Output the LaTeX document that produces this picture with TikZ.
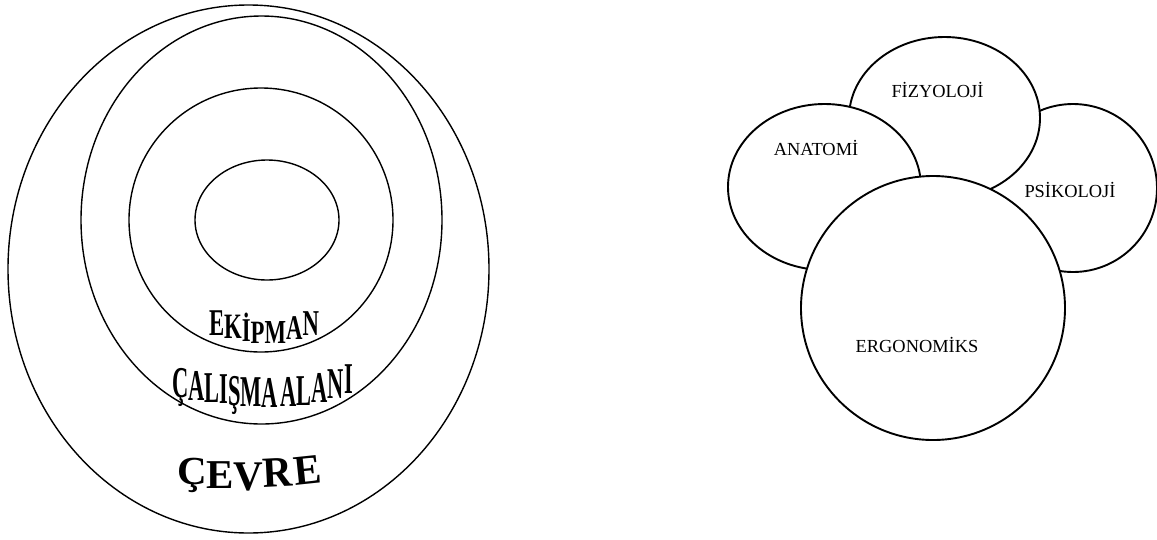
\documentclass[tikz,border=0pt]{standalone}
\usepackage{fontspec}
\setmainfont{Liberation Serif}
\newfontfamily\ekfont[FakeStretch=0.65]{Liberation Serif}
\newfontfamily\cafont[FakeStretch=0.51]{Liberation Serif}
\newfontfamily\cvfont{Liberation Serif}
\begin{document}
\begin{tikzpicture}[x=1pt,y=-1pt,
  ring/.style={draw, line width=1.4pt},
  blob/.style={draw, line width=1.9pt, fill=white},
  lbl/.style={font=\fontsize{18.4}{20}\selectfont, anchor=base, inner sep=0pt},
  ltr/.style={anchor=base west, inner sep=0pt, outer sep=0pt},
  ekltr/.style={ltr, font=\ekfont\bfseries\fontsize{35}{35}\selectfont},
  caltr/.style={ltr, font=\cafont\bfseries\fontsize{44}{44}\selectfont},
  cvltr/.style={ltr, font=\cvfont\bfseries\fontsize{41}{41}\selectfont}]
\useasboundingbox (0,0) rectangle (1157,539);
% left: concentric rings
\draw[ring] (248.5,269) ellipse [x radius=240.5, y radius=264];
\draw[ring] (261.5,220) ellipse [x radius=180.5, y radius=204];
\draw[ring] (261,220) ellipse [x radius=132, y radius=132];
\draw[ring] (267,220) ellipse [x radius=72, y radius=60];
% EKİPMAN, arched
\node[ekltr] (ek1) at (209,335) {\scalebox{1}[1.08]{E}};
\node[ekltr] (ek2) at (ek1.base east |- 0,338.5) {\scalebox{1}[1.02]{K}};
\node[ekltr] (ek3) at (ek2.base east |- 0,341.5) {\scalebox{1}[0.95]{İ}};
\node[ekltr] (ek4) at (ek3.base east |- 0,343) {\scalebox{1}[0.93]{P}};
\node[ekltr] (ek5) at (ek4.base east |- 0,343) {\scalebox{1}[0.96]{M}};
\node[ekltr] (ek6) at (ek5.base east |- 0,339.5) {\scalebox{1}[0.99]{A}};
\node[ekltr] (ek7) at (ek6.base east |- 0,335) {\scalebox{1}[1.04]{N}};
% ÇALIŞMA ALANI, arched
\node[caltr] (ca1) at (172,397) {Ç};
\node[caltr] (ca2) at (ca1.base east |- 0,400) {A};
\node[caltr] (ca3) at (ca2.base east |- 0,402) {L};
\node[caltr] (ca4) at (ca3.base east |- 0,403.5) {I};
\node[caltr] (ca5) at (ca4.base east |- 0,405) {Ş};
\node[caltr] (ca6) at (ca5.base east |- 0,406.5) {M};
\node[caltr] (ca7) at (ca6.base east |- 0,407) {A};
\node[caltr] (ca8) at ([xshift=2.5pt]ca7.base east |- 0,406.5) {A};
\node[caltr] (ca9) at (ca8.base east |- 0,405) {L};
\node[caltr] (ca10) at (ca9.base east |- 0,402) {A};
\node[caltr] (ca11) at (ca10.base east |- 0,398) {N};
\node[caltr] (ca12) at (ca11.base east |- 0,393) {I};
% ÇEVRE, arched
\node[cvltr] (cv1) at (177,484) {\scalebox{1}[0.97]{Ç}};
\node[cvltr] (cv2) at (cv1.base east |- 0,488) {E};
\node[cvltr] (cv3) at (cv2.base east |- 0,490) {\scalebox{1}[1.03]{V}};
\node[cvltr, rotate=3] (cv4) at (cv3.base east |- 0,487) {\scalebox{1}[1.05]{R}};
\node[cvltr, rotate=6] (cv5) at ([xshift=2pt]cv4.base east) {\scalebox{1}[1.03]{E}};
% right: overlapping circles
\draw[blob] (1073,188) ellipse [x radius=84, y radius=84];
\draw[blob] (944.5,118) ellipse [x radius=95.5, y radius=81];
\draw[blob] (824.5,187) ellipse [x radius=96.5, y radius=83];
\draw[blob] (933,308) circle [radius=132];
\node[lbl] (fiz) at (937.5,97) {FİZYOLOJİ};
\node[lbl] (ana) at (816,155) {ANATOMİ};
\node[lbl] (psi) at (1070,197) {PSİKOLOJİ};
\node[lbl] (erg) at (917,352) {ERGONOMİKS};
\end{tikzpicture}
\end{document}
